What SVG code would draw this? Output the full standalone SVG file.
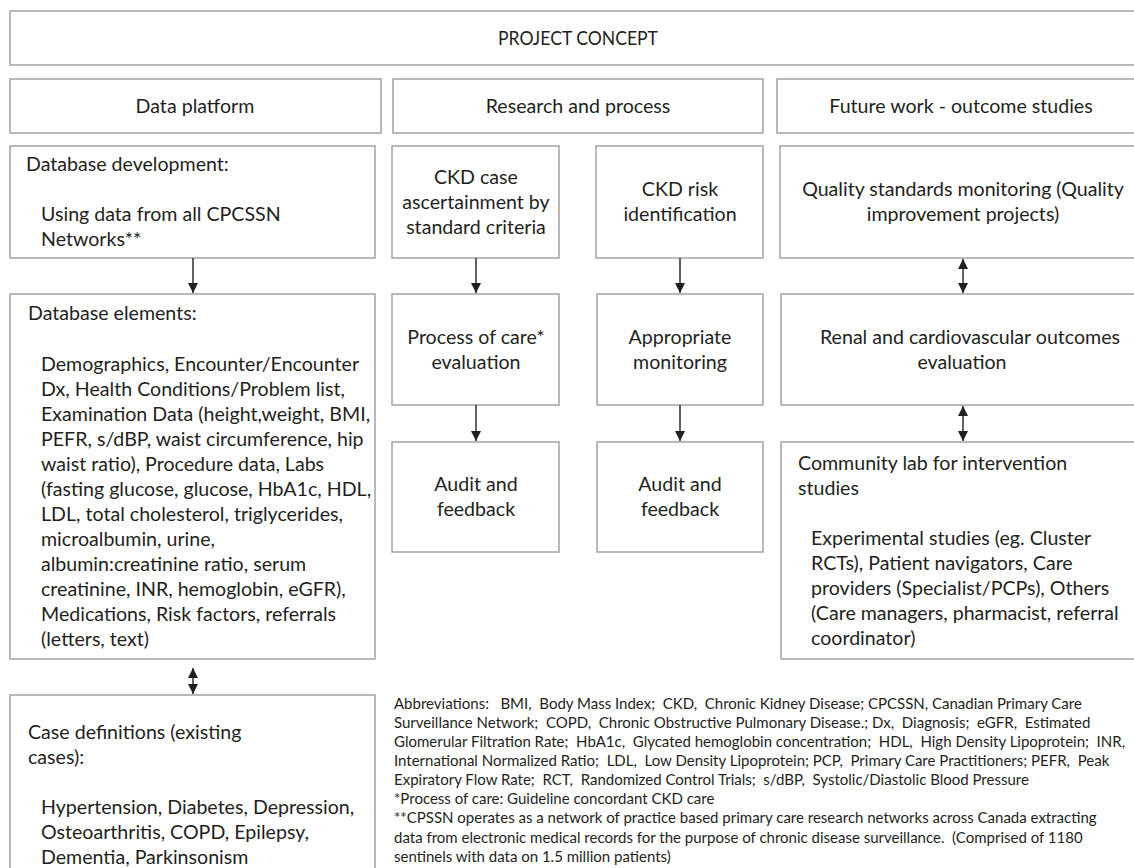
<svg xmlns="http://www.w3.org/2000/svg" width="1134" height="868" viewBox="0 0 1134 868">
<style>
.box{fill:#fff;stroke:#a3a3a3;stroke-width:1.5}
text{font-family:Lato,"Liberation Sans",sans-serif;fill:#231f20}
.t{font-size:19.6px}
.c{text-anchor:middle}
.s{font-size:15px;white-space:pre}
.ln{stroke:#231f20;stroke-width:1.4;fill:none}
</style>
<defs>
<marker id="ah" viewBox="0 0 10 12" refX="10" refY="6" markerWidth="10" markerHeight="12" markerUnits="userSpaceOnUse" orient="auto">
<path d="M0,1 L10,6 L0,11 Z" fill="#231f20"/>
</marker>
<marker id="ahs" viewBox="0 0 10 12" refX="0" refY="6" markerWidth="10" markerHeight="12" markerUnits="userSpaceOnUse" orient="auto">
<path d="M10,1 L0,6 L10,11 Z" fill="#231f20"/>
</marker>
</defs>
<rect width="1134" height="868" fill="#fff"/>
<g id="project-concept"><rect class="box" x="10" y="11" width="1136" height="54"/><text class="t c" x="578" y="45" textLength="160" lengthAdjust="spacingAndGlyphs">PROJECT CONCEPT</text></g>
<g id="data-platform"><rect class="box" x="10" y="79" width="371" height="54"/><text class="t c" x="195" y="113">Data platform</text></g>
<g id="research-process"><rect class="box" x="393" y="79" width="370" height="54"/><text class="t c" x="578" y="113">Research and process</text></g>
<g id="future-work"><rect class="box" x="777" y="79" width="369" height="54"/><text class="t c" x="961" y="113">Future work - outcome studies</text></g>
<g id="database-development"><rect class="box" x="10" y="146" width="365" height="112"/>
<text class="t" x="26" y="171">Database development:</text>
<text class="t" x="41" y="221">Using data from all CPCSSN</text>
<text class="t" x="41" y="246">Networks**</text></g>
<g id="ckd-case"><rect class="box" x="392" y="146" width="167" height="112"/>
<text class="t c" x="476" y="184">CKD case</text>
<text class="t c" x="476" y="209">ascertainment by</text>
<text class="t c" x="476" y="234">standard criteria</text></g>
<g id="ckd-risk"><rect class="box" x="596" y="146" width="167" height="112"/>
<text class="t c" x="680" y="196">CKD risk</text>
<text class="t c" x="680" y="221">identification</text></g>
<g id="quality-standards"><rect class="box" x="780" y="146" width="366" height="112"/>
<text class="t c" x="963" y="196">Quality standards monitoring (Quality</text>
<text class="t c" x="963" y="221">improvement projects)</text></g>
<g id="database-elements"><rect class="box" x="10" y="294" width="365" height="365"/>
<text class="t" x="28" y="320">Database elements:</text>
<text class="t" x="41" y="371">Demographics, Encounter/Encounter</text>
<text class="t" x="41" y="396">Dx, Health Conditions/Problem list,</text>
<text class="t" x="41" y="421">Examination Data (height,weight, BMI,</text>
<text class="t" x="41" y="446">PEFR, s/dBP, waist circumference, hip</text>
<text class="t" x="41" y="471">waist ratio), Procedure data, Labs</text>
<text class="t" x="41" y="496">(fasting glucose, glucose, HbA1c, HDL,</text>
<text class="t" x="41" y="521">LDL, total cholesterol, triglycerides,</text>
<text class="t" x="41" y="546">microalbumin, urine,</text>
<text class="t" x="41" y="571">albumin:creatinine ratio, serum</text>
<text class="t" x="41" y="596">creatinine, INR, hemoglobin, eGFR),</text>
<text class="t" x="41" y="621">Medications, Risk factors, referrals</text>
<text class="t" x="41" y="646">(letters, text)</text></g>
<g id="process-of-care"><rect class="box" x="392" y="294" width="167" height="111"/>
<text class="t c" x="476" y="344">Process of care*</text>
<text class="t c" x="476" y="369">evaluation</text></g>
<g id="appropriate-monitoring"><rect class="box" x="597" y="294" width="166" height="111"/>
<text class="t c" x="680" y="344">Appropriate</text>
<text class="t c" x="680" y="369">monitoring</text></g>
<g id="renal-outcomes"><rect class="box" x="781" y="294" width="365" height="111"/>
<text class="t c" x="970" y="344">Renal and cardiovascular outcomes</text>
<text class="t c" x="962" y="369">evaluation</text></g>
<g id="audit-feedback-1"><rect class="box" x="392" y="442" width="167" height="110"/>
<text class="t c" x="476" y="491">Audit and</text>
<text class="t c" x="476" y="516">feedback</text></g>
<g id="audit-feedback-2"><rect class="box" x="597" y="442" width="166" height="110"/>
<text class="t c" x="680" y="491">Audit and</text>
<text class="t c" x="680" y="516">feedback</text></g>
<g id="community-lab"><rect class="box" x="781" y="442" width="365" height="217"/>
<text class="t" x="798" y="470">Community lab for intervention</text>
<text class="t" x="798" y="495">studies</text>
<text class="t" x="811" y="545">Experimental studies (eg. Cluster</text>
<text class="t" x="811" y="570">RCTs), Patient navigators, Care</text>
<text class="t" x="811" y="595">providers (Specialist/PCPs), Others</text>
<text class="t" x="811" y="620">(Care managers, pharmacist, referral</text>
<text class="t" x="811" y="645">coordinator)</text></g>
<g id="case-definitions"><rect class="box" x="10" y="695" width="365" height="190"/>
<text class="t" x="28" y="739">Case definitions (existing</text>
<text class="t" x="28" y="764">cases):</text>
<text class="t" x="41" y="814">Hypertension, Diabetes, Depression,</text>
<text class="t" x="41" y="839">Osteoarthritis, COPD, Epilepsy,</text>
<text class="t" x="41" y="864">Dementia, Parkinsonism</text></g>
<g id="abbreviations">
<text class="s" x="394" y="709">Abbreviations:   BMI,  Body Mass Index;  CKD,  Chronic Kidney Disease; CPCSSN, Canadian Primary Care</text>
<text class="s" x="394" y="728">Surveillance Network;  COPD,  Chronic Obstructive Pulmonary Disease.; Dx,  Diagnosis;  eGFR,  Estimated</text>
<text class="s" x="394" y="747">Glomerular Filtration Rate;  HbA1c,  Glycated hemoglobin concentration;  HDL,  High Density Lipoprotein;  INR,</text>
<text class="s" x="394" y="766">International Normalized Ratio;  LDL,  Low Density Lipoprotein; PCP,  Primary Care Practitioners; PEFR,  Peak</text>
<text class="s" x="394" y="785">Expiratory Flow Rate;  RCT,  Randomized Control Trials;  s/dBP,  Systolic/Diastolic Blood Pressure</text>
<text class="s" x="394" y="804">*Process of care: Guideline concordant CKD care</text>
<text class="s" x="394" y="823">**CPSSN operates as a network of practice based primary care research networks across Canada extracting</text>
<text class="s" x="394" y="843">data from electronic medical records for the purpose of chronic disease surveillance.  (Comprised of 1180</text>
<text class="s" x="394" y="862">sentinels with data on 1.5 million patients)</text>
</g>
<g id="connectors">
<line class="ln" x1="193" y1="258" x2="193" y2="293" marker-end="url(#ah)"/>
<line class="ln" x1="476" y1="258" x2="476" y2="293" marker-end="url(#ah)"/>
<line class="ln" x1="680" y1="258" x2="680" y2="293" marker-end="url(#ah)"/>
<line class="ln" x1="963" y1="259" x2="963" y2="293" marker-start="url(#ahs)" marker-end="url(#ah)"/>
<line class="ln" x1="476" y1="405" x2="476" y2="441" marker-end="url(#ah)"/>
<line class="ln" x1="680" y1="405" x2="680" y2="441" marker-end="url(#ah)"/>
<line class="ln" x1="963" y1="406" x2="963" y2="441" marker-start="url(#ahs)" marker-end="url(#ah)"/>
<line class="ln" x1="193" y1="668" x2="193" y2="694" marker-start="url(#ahs)" marker-end="url(#ah)"/>
</g>
</svg>
